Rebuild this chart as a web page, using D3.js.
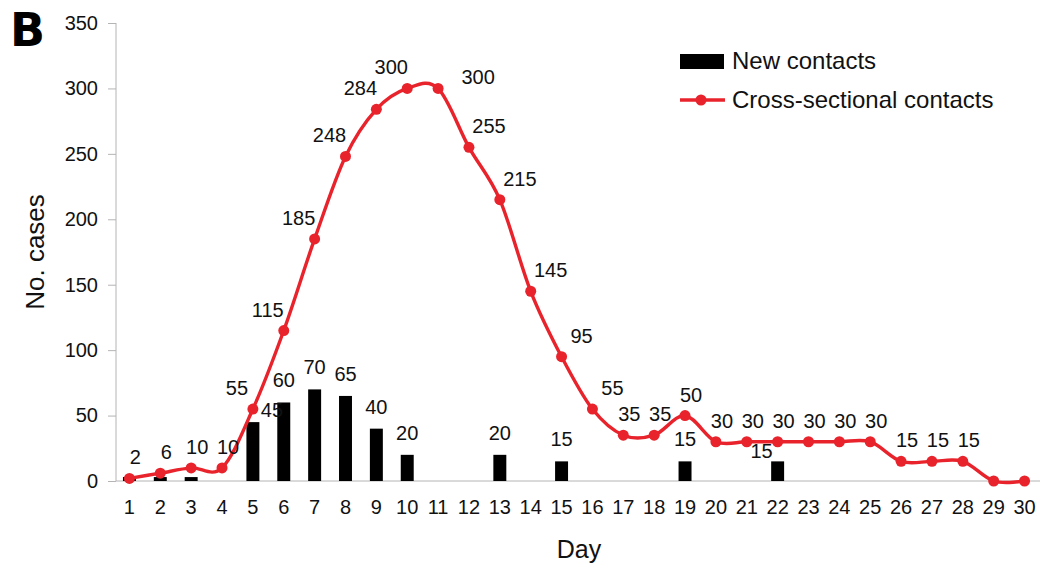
<!DOCTYPE html>
<html>
<head>
<meta charset="utf-8">
<script src="https://cdn.jsdelivr.net/npm/d3@7"></script>
<style>
  body { margin: 0; background: #fff; }
  svg { display: block; font-family: "Liberation Sans", Arial, sans-serif; }
</style>
</head>
<body>
<div id="chart"></div>
<script>
// 数据
const days = d3.range(1, 31);
const newContacts = [3, 3, 3, 0, 45, 60, 70, 65, 40, 20, 0, 0, 20, 0, 15, 0, 0, 0, 15, 0, 0, 15, 0, 0, 0, 0, 0, 0, 0, 0];
const crossContacts = [2, 6, 10, 10, 55, 115, 185, 248, 284, 300, 300, 255, 215, 145, 95, 55, 35, 35, 50, 30, 30, 30, 30, 30, 30, 15, 15, 15, 0, 0];
const yTicks = [0, 50, 100, 150, 200, 250, 300, 350];

const width = 1040, height = 567;
const red = "#e8232b";
const axisColor = "#b4b4b4";
const textColor = "#111";

const svg = d3.select("#chart").append("svg")
  .attr("width", width)
  .attr("height", height);

// 比例尺
const x = d3.scaleBand()
  .domain(days)
  .range([114, 1040])
  .paddingInner(0.58)
  .paddingOuter(0.29);

const xc = d => x(d) + x.bandwidth() / 2;

const y = d3.scaleLinear()
  .domain([0, 350])
  .range([481, 23]);

// Y 轴
const yAxis = svg.append("g")
  .attr("transform", "translate(116,0)")
  .call(d3.axisLeft(y).tickValues(yTicks).tickSize(8).tickPadding(10));
yAxis.selectAll("line").attr("stroke", axisColor);
yAxis.select(".domain").attr("stroke", axisColor).attr("d", `M0,${y(350)}V${y(0)}`);
yAxis.selectAll("text").style("font-size", "20px").attr("fill", textColor);

// X 轴
const xAxis = svg.append("g")
  .attr("transform", `translate(0,${y(0)})`)
  .call(d3.axisBottom(x).tickSize(0).tickPadding(19));
xAxis.select(".domain").attr("stroke", axisColor).attr("d", "M116,0H1040");
xAxis.selectAll("text").style("font-size", "20px").attr("fill", textColor);

// 坐标轴标题
svg.append("text")
  .attr("transform", "translate(44,252) rotate(-90)")
  .attr("text-anchor", "middle")
  .style("font-size", "26px")
  .attr("fill", textColor)
  .text("No. cases");

svg.append("text")
  .attr("x", 579)
  .attr("y", 558)
  .attr("text-anchor", "middle")
  .style("font-size", "25px")
  .attr("fill", textColor)
  .text("Day");

svg.append("text")
  .attr("x", 10)
  .attr("y", 46)
  .style("font-size", "46px")
  .style("font-weight", "900")
  .style("font-family", "'DejaVu Sans', 'Liberation Sans', sans-serif")
  .attr("fill", "#000")
  .text("B");

// 柱状图
const barData = days.map((d, i) => ({ day: d, v: newContacts[i] })).filter(d => d.v > 0);
svg.append("g").selectAll("rect")
  .data(barData)
  .enter().append("rect")
  .attr("x", d => x(d.day))
  .attr("y", d => y(d.v))
  .attr("width", x.bandwidth())
  .attr("height", d => y(0) - y(d.v))
  .attr("fill", "#000");

// 折线（平滑）
const lineData = days.map((d, i) => ({ day: d, v: crossContacts[i] }));
const line = d3.line()
  .x(d => xc(d.day))
  .y(d => y(d.v))
  .curve(d3.curveCatmullRom.alpha(0));

svg.append("path")
  .datum(lineData)
  .attr("fill", "none")
  .attr("stroke", red)
  .attr("stroke-width", 3.4)
  .attr("d", line);

svg.append("g").selectAll("circle")
  .data(lineData)
  .enter().append("circle")
  .attr("cx", d => xc(d.day))
  .attr("cy", d => y(d.v))
  .attr("r", 5.5)
  .attr("fill", red);

// 折线数据标签：上升段放左上，下降段放右上
const lineLabels = [];
lineData.forEach((d, i) => {
  if (d.v <= 0) return;
  const back = i > 0 ? d.v - crossContacts[i - 1] : 0;
  const fwd = i < crossContacts.length - 1 ? crossContacts[i + 1] - d.v : 0;
  let dx = 6, dy = -21;
  if (back > 15) dx = -16;
  else if (back === 0 && fwd < -30) { dx = 40; dy = -11; }
  else if (back < -30 || fwd < -30) dx = 20;
  lineLabels.push({ x: xc(d.day) + dx, y: y(d.v) + dy, text: String(d.v) });
});

// 简单的碰撞检测
const boxOf = l => {
  const w = l.text.length * 9;
  return { x0: l.x - w / 2, x1: l.x + w / 2, y0: l.y - 8, y1: l.y + 8 };
};
const hit = (a, b) => a.x0 < b.x1 && a.x1 > b.x0 && a.y0 < b.y1 && a.y1 > b.y0;
const markerBoxes = lineData.map(d => ({ x0: xc(d.day) - 5, x1: xc(d.day) + 5, y0: y(d.v) - 5, y1: y(d.v) + 5 }));
const lineBoxes = lineLabels.map(boxOf);

// 柱状图标签：尽量避开折线标签和点
const barLabels = barData.filter(d => d.v >= 10).map(d => {
  const cx = xc(d.day), top = y(d.v);
  const text = String(d.v);
  const candidates = [
    { x: cx, y: top - 22 },
    { x: cx + 19, y: top - 12 },
    { x: cx - 16, y: top - 10 }
  ];
  const pick = candidates.find(c => {
    const b = boxOf({ ...c, text });
    return !lineBoxes.some(o => hit(b, o)) && !markerBoxes.some(o => hit(b, o));
  }) || candidates[candidates.length - 1];
  return { ...pick, text };
});

svg.append("g").selectAll("text")
  .data(lineLabels.concat(barLabels))
  .enter().append("text")
  .attr("x", d => d.x)
  .attr("y", d => d.y)
  .attr("dy", "0.35em")
  .attr("text-anchor", "middle")
  .style("font-size", "20px")
  .attr("fill", textColor)
  .text(d => d.text);

// 图例
const legend = svg.append("g");
legend.append("rect")
  .attr("x", 680).attr("y", 54)
  .attr("width", 44).attr("height", 15)
  .attr("fill", "#000");
legend.append("text")
  .attr("x", 732).attr("y", 61)
  .attr("dy", "0.35em")
  .style("font-size", "24px")
  .attr("fill", textColor)
  .text("New contacts");
legend.append("line")
  .attr("x1", 680).attr("x2", 725)
  .attr("y1", 100).attr("y2", 100)
  .attr("stroke", red).attr("stroke-width", 3.4);
legend.append("circle")
  .attr("cx", 701).attr("cy", 100).attr("r", 5.5)
  .attr("fill", red);
legend.append("text")
  .attr("x", 732).attr("y", 100)
  .attr("dy", "0.35em")
  .style("font-size", "24px")
  .attr("fill", textColor)
  .text("Cross-sectional contacts");
</script>
</body>
</html>
